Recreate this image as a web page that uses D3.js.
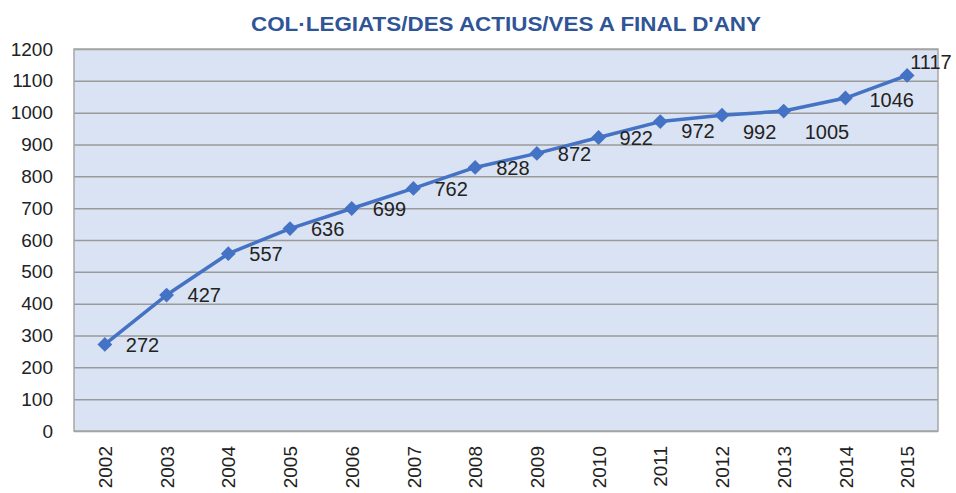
<!DOCTYPE html>
<html>
<head>
<meta charset="utf-8">
<script src="https://cdn.jsdelivr.net/npm/d3@7"></script>
<style>
  body { margin: 0; background: #fff; }
  .domain { display: none; }
  .tick text { fill: #222; font-family: "Liberation Sans", Arial, sans-serif; font-size: 19px; }
  .val { fill: #222; font-family: "Liberation Sans", Arial, sans-serif; font-size: 20px; }
</style>
</head>
<body>
<svg width="956" height="493"></svg>
<script>
// chart data
const years = ['2002','2003','2004','2005','2006','2007','2008','2009','2010','2011','2012','2013','2014','2015'];
const members = [272, 427, 557, 636, 699, 762, 828, 872, 922, 972, 992, 1005, 1046, 1117];
const yTicks = [0,100,200,300,400,500,600,700,800,900,1000,1100,1200];
const title = "COL\u00B7LEGIATS/DES ACTIUS/VES A FINAL D'ANY";

const margin = {left: 74, right: 18, top: 49, bottom: 62};
const svg = d3.select('svg');
const width = +svg.attr('width');
const height = +svg.attr('height');
const innerWidth = width - margin.left - margin.right;
const innerHeight = height - margin.top - margin.bottom;

const g = svg.append('g').attr('transform', `translate(${margin.left},${margin.top})`);

const xScale = d3.scalePoint().domain(years).range([0, innerWidth]).padding(0.5);
const yScale = d3.scaleLinear().domain([0, 1200]).range([innerHeight, 0]);

// plot background
g.append('rect')
  .attr('width', innerWidth).attr('height', innerHeight)
  .attr('fill', '#dae3f3');

// gridlines + y labels
const yAxis = d3.axisLeft(yScale).tickValues(yTicks).tickFormat(d3.format('d'))
  .tickSize(-innerWidth).tickPadding(21);
const yAxisG = g.append('g').call(yAxis);
yAxisG.selectAll('.tick line').attr('stroke', '#9a9a9a').attr('stroke-width', 1.5);

// plot border
g.append('rect')
  .attr('width', innerWidth).attr('height', innerHeight)
  .attr('fill', 'none').attr('stroke', '#a6a6a6').attr('stroke-width', 1.5);

// x labels, rotated
const xAxis = d3.axisBottom(xScale).tickSize(0).tickPadding(0);
const xAxisG = g.append('g').attr('transform', `translate(0,${innerHeight})`).call(xAxis);
xAxisG.selectAll('.tick text')
  .attr('transform', 'rotate(-90)')
  .attr('x', -15).attr('y', 0).attr('dy', '0.35em')
  .style('text-anchor', 'end');

const data = years.map((y, i) => ({year: y, value: members[i]}));

const line = d3.line()
  .x(d => xScale(d.year))
  .y(d => yScale(d.value));

g.append('path')
  .datum(data)
  .attr('fill', 'none')
  .attr('stroke', '#4472c4')
  .attr('stroke-width', 3.5)
  .attr('stroke-linejoin', 'round')
  .attr('d', line);

const diamond = d3.symbol().type(d3.symbolDiamond2).size(140);
g.selectAll('.marker')
  .data(data).enter().append('path')
  .attr('class', 'marker')
  .attr('transform', d => `translate(${xScale(d.year)},${yScale(d.value)})`)
  .attr('d', diamond)
  .attr('fill', '#4472c4');

// value labels sit right of each point; a few are nudged like in the original
const nudge = {'2011': [0, 9], '2012': [0, 17], '2013': [0, 21], '2014': [3, 2], '2015': [-18, -14]};
g.selectAll('.val')
  .data(data).enter().append('text')
  .attr('class', 'val')
  .attr('x', d => xScale(d.year) + 21 + (nudge[d.year] ? nudge[d.year][0] : 0))
  .attr('y', d => yScale(d.value) + (nudge[d.year] ? nudge[d.year][1] : 0))
  .attr('dy', '0.36em')
  .text(d => d.value);

// title
svg.append('text')
  .attr('x', margin.left + innerWidth / 2)
  .attr('y', 31)
  .attr('text-anchor', 'middle')
  .attr('fill', '#2f5597')
  .style('font-family', '"Liberation Sans Narrow", "Liberation Sans", Arial, sans-serif')
  .style('font-weight', 'bold')
  .style('font-size', '21px')
  .attr('textLength', 510)
  .attr('lengthAdjust', 'spacingAndGlyphs')
  .text(title);
</script>
</body>
</html>
